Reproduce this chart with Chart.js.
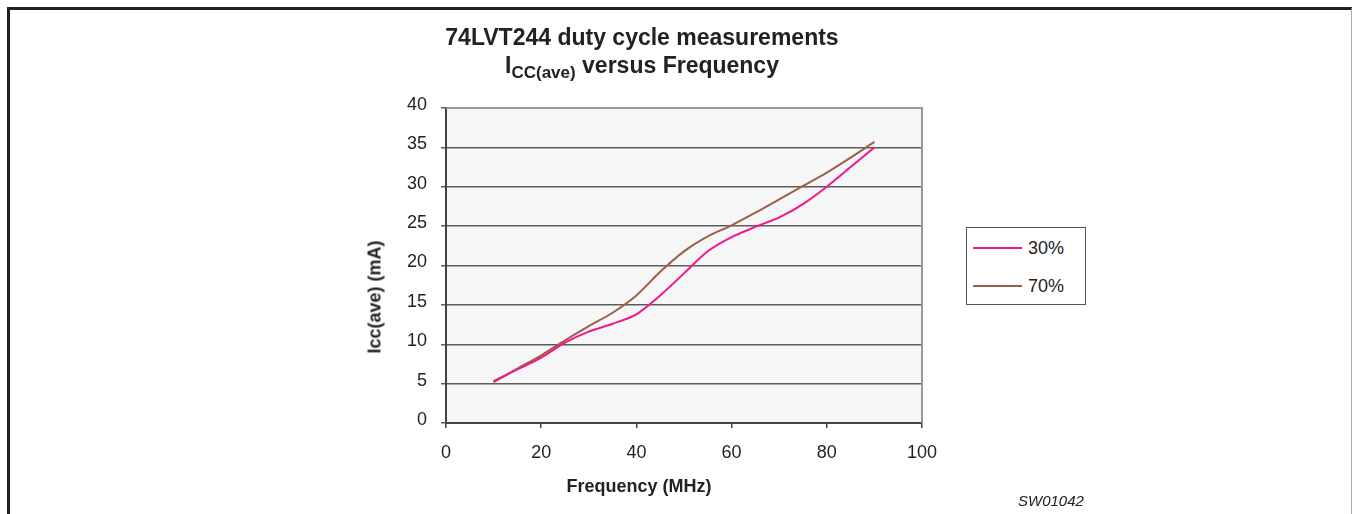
<!DOCTYPE html>
<html>
<head>
<meta charset="utf-8">
<title>74LVT244 duty cycle measurements</title>
<script src="https://cdn.jsdelivr.net/npm/chart.js@4.4.1/dist/chart.umd.min.js"></script>
<style>
    html, body {
        margin: 0;
        padding: 0;
        background: #fff;
        font-family: "Liberation Sans", Arial, Helvetica, sans-serif;
        color: #222;
    }
    #wrap {
        position: relative;
        width: 1352px;
        height: 514px;
        overflow: hidden;
    }
    #frame {
        position: absolute;
        left: 7px;
        top: 7px;
        width: 1341px;
        height: 520px;
        border-left: 3px solid #222;
        border-top: 3px solid #222;
        border-right: 1px solid #aaa;
    }
    #chart {
        position: absolute;
        left: 0;
        top: 0;
    }
    .title {
        position: absolute;
        left: 342px;
        width: 600px;
        text-align: center;
        font-weight: bold;
        font-size: 23px;
        line-height: 23px;
        white-space: nowrap;
    }
    .title sub {
        font-size: 17px;
        vertical-align: -5px;
        line-height: 0;
    }
    #ytitle {
        position: absolute;
        left: 375px;
        top: 297px;
        transform: translate(-50%, -50%) rotate(-90deg);
        font-weight: bold;
        font-size: 18px;
        white-space: nowrap;
    }
    #xtitle {
        position: absolute;
        left: 639px;
        top: 486px;
        transform: translate(-50%, -50%);
        font-weight: bold;
        font-size: 18px;
        white-space: nowrap;
    }
    #legend {
        position: absolute;
        left: 966px;
        top: 227px;
        width: 120px;
        height: 78px;
        border: 1px solid #555;
        box-sizing: border-box;
        background: #fff;
    }
    .legend-item {
        position: absolute;
        left: 6px;
        height: 20px;
        display: flex;
        align-items: center;
        font-size: 18px;
    }
    .legend-line {
        display: inline-block;
        width: 49px;
        height: 2px;
        margin-right: 6px;
    }
    #code {
        position: absolute;
        left: 1018px;
        top: 492px;
        font-style: italic;
        font-size: 15px;
    }
</style>
</head>
<body>
<div id="wrap">
    <div id="frame"></div>
    <canvas id="chart" width="1352" height="514"></canvas>
    <div class="title" style="top: 26px;">74LVT244 duty cycle measurements</div>
    <div class="title" style="top: 54px;">I<sub>CC(ave)</sub> versus Frequency</div>
    <div id="ytitle">Icc(ave) (mA)</div>
    <div id="xtitle">Frequency (MHz)</div>
    <div id="legend"></div>
    <div id="code">SW01042</div>
</div>

<script>
// Frequency points (MHz)
const frequencies = [10, 15, 20, 25, 30, 35, 40, 45, 50, 55, 60, 65, 70, 75, 80, 85, 90];

// Icc(ave) in mA
const icc30 = [5.3, 6.8, 8.3, 10.2, 11.6, 12.6, 13.8, 16.2, 19.0, 21.8, 23.6, 24.9, 26.1, 27.8, 30.0, 32.5, 35.0];
const icc70 = [5.2, 6.9, 8.6, 10.5, 12.3, 14.0, 16.2, 19.2, 21.8, 23.7, 25.1, 26.7, 28.4, 30.1, 31.8, 33.7, 35.7];

const seriesNames = ['30%', '70%'];
const seriesColors = ['#f0168f', '#9c5f48'];

// Axis ranges
const xMin = 0, xMax = 100, xStep = 20;
const yMin = 0, yMax = 40, yStep = 5;

const FONT = '"Liberation Sans", Arial, Helvetica, sans-serif';

function toPoints(xs, ys) {
    return xs.map((x, i) => ({ x: x, y: ys[i] }));
}

// Light grey plot background and plot border
const plotArea = {
    id: 'plotArea',
    beforeDraw(chart) {
        const a = chart.chartArea;
        const ctx = chart.ctx;
        ctx.save();
        ctx.fillStyle = '#f6f6f6';
        ctx.fillRect(a.left, a.top, a.right - a.left, a.bottom - a.top);
        ctx.restore();
    },
    afterDatasetsDraw(chart) {
        const a = chart.chartArea;
        const ctx = chart.ctx;
        ctx.save();
        ctx.strokeStyle = '#999';
        ctx.lineWidth = 2;
        ctx.beginPath();
        ctx.moveTo(a.left, a.top);
        ctx.lineTo(a.right, a.top);
        ctx.lineTo(a.right, a.bottom);
        ctx.stroke();
        ctx.restore();
    }
};

const ctx = document.getElementById('chart').getContext('2d');

new Chart(ctx, {
    type: 'line',
    data: {
        datasets: [
            {
                label: seriesNames[0],
                data: toPoints(frequencies, icc30),
                borderColor: seriesColors[0],
                borderWidth: 2,
                pointRadius: 0,
                tension: 0.3,
                fill: false
            },
            {
                label: seriesNames[1],
                data: toPoints(frequencies, icc70),
                borderColor: seriesColors[1],
                borderWidth: 2,
                pointRadius: 0,
                tension: 0.3,
                fill: false
            }
        ]
    },
    options: {
        responsive: false,
        animation: false,
        layout: {
            padding: { left: 0, right: 430, top: 108, bottom: 0 }
        },
        plugins: {
            legend: { display: false },
            tooltip: { enabled: false },
            title: { display: false }
        },
        scales: {
            x: {
                type: 'linear',
                min: xMin,
                max: xMax,
                afterFit(scale) { scale.height = 91; },
                ticks: {
                    stepSize: xStep,
                    color: '#222',
                    padding: 14,
                    font: { family: FONT, size: 18 }
                },
                grid: {
                    drawOnChartArea: false,
                    drawTicks: true,
                    tickLength: 5,
                    color: '#444',
                    lineWidth: 1.5
                },
                border: { color: '#444', width: 2 }
            },
            y: {
                min: yMin,
                max: yMax,
                afterFit(scale) { scale.width = 446; },
                ticks: {
                    stepSize: yStep,
                    color: '#222',
                    padding: 14,
                    labelOffset: -3,
                    font: { family: FONT, size: 18 }
                },
                grid: {
                    drawOnChartArea: true,
                    drawTicks: true,
                    tickLength: 5,
                    color: '#5c5c5c',
                    lineWidth: 1.5
                },
                border: { color: '#444', width: 2 }
            }
        }
    },
    plugins: [plotArea]
});

// Legend built from the series names/colours
const legendDiv = document.getElementById('legend');
seriesNames.forEach(function(name, i) {
    const item = document.createElement('div');
    item.className = 'legend-item';
    item.style.top = (10 + i * 38) + 'px';
    item.innerHTML = '<span class="legend-line" style="background:' + seriesColors[i] + '"></span>' + name;
    legendDiv.appendChild(item);
});
</script>
</body>
</html>
